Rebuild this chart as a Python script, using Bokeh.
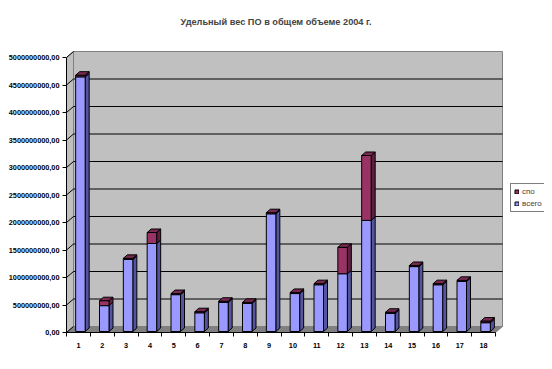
from bokeh.plotting import figure
from bokeh.models import FixedTicker, Range1d, Legend, LegendItem
from bokeh.embed import file_html
from bokeh.resources import INLINE

# ---- data ----
categories = [str(i) for i in range(1, 19)]
vsego = [4.63e9, 0.47e9, 1.31e9, 1.60e9, 0.67e9, 0.34e9, 0.53e9, 0.51e9, 2.14e9,
         0.69e9, 0.85e9, 1.05e9, 2.02e9, 0.33e9, 1.18e9, 0.85e9, 0.91e9, 0.16e9]
spo = [0.03e9, 0.09e9, 0.02e9, 0.20e9, 0.02e9, 0.02e9, 0.02e9, 0.02e9, 0.02e9,
       0.02e9, 0.02e9, 0.48e9, 1.18e9, 0.02e9, 0.02e9, 0.02e9, 0.02e9, 0.03e9]
y_ticks = [0, 0.5e9, 1.0e9, 1.5e9, 2.0e9, 2.5e9, 3.0e9, 3.5e9, 4.0e9, 4.5e9, 5.0e9]
y_tick_labels = ["0,00", "500000000,00", "1000000000,00", "1500000000,00",
                 "2000000000,00", "2500000000,00", "3000000000,00", "3500000000,00",
                 "4000000000,00", "4500000000,00", "5000000000,00"]
title_text = "Удельный вес ПО в общем объеме 2004 г."
series_names = ["спо", "всего"]

# ---- geometry (pixels -> data units) ----
N = len(categories)
YMAX = y_ticks[-1]
FRAME_W, FRAME_H = 478, 302
PX_X = N / 429.0
PX_Y = YMAX / 275.0
WALL_DX, WALL_DY = 7 * PX_X, 6 * PX_Y
BAR_DX, BAR_DY = 4 * PX_X, 3.5 * PX_Y
BAR_SHIFT_X, BAR_SHIFT_Y = 2 * PX_X, 1 * PX_Y
BAR_HALF = 4.75 * PX_X

p = figure(width=544, height=361, output_backend="svg", toolbar_location=None,
           x_range=Range1d(0, FRAME_W * PX_X), y_range=Range1d(0, FRAME_H * PX_Y),
           min_border_left=66, min_border_right=0, min_border_top=30, min_border_bottom=29)
p.outline_line_color = None
p.xgrid.visible = False
p.ygrid.visible = False
p.background_fill_color = "white"
p.border_fill_color = "white"

p.title.text = title_text
p.title.align = "left"
p.title.offset = 114
p.title.standoff = 8
p.title.text_font = "Liberation Sans"
p.title.text_font_size = "9.2px"
p.title.text_font_style = "bold"

# ---- walls ----
p.patch([0, 0, WALL_DX, WALL_DX], [0, YMAX, YMAX + WALL_DY, WALL_DY],
        fill_color="#C0C0C0", line_color="#808080", line_width=1)
p.patch([WALL_DX, WALL_DX, N + WALL_DX, N + WALL_DX],
        [WALL_DY, YMAX + WALL_DY, YMAX + WALL_DY, WALL_DY],
        fill_color="#C0C0C0", line_color="#808080", line_width=1)
p.patch([0, N, N + WALL_DX, WALL_DX], [0, 0, WALL_DY, WALL_DY],
        fill_color="#808080", line_color="#808080", line_width=1)

grid_vals = [v for v in y_ticks if 0 < v < YMAX]
p.segment(x0=[WALL_DX] * len(grid_vals), y0=[v + WALL_DY for v in grid_vals],
          x1=[N + WALL_DX] * len(grid_vals), y1=[v + WALL_DY for v in grid_vals],
          line_color="black", line_width=1)
p.segment(x0=[0] * len(y_ticks), y0=y_ticks,
          x1=[WALL_DX] * len(y_ticks), y1=[v + WALL_DY for v in y_ticks],
          line_color="black", line_width=1)

# ---- 3D stacked bars ----
def faces(bottoms, tops):
    fl, fr, fb, ft = [], [], [], []
    sx, sy, tx, ty = [], [], [], []
    for i, (b, t) in enumerate(zip(bottoms, tops)):
        c = i + 0.5 + BAR_SHIFT_X
        l, r = c - BAR_HALF, c + BAR_HALF
        b2, t2 = b + BAR_SHIFT_Y, t + BAR_SHIFT_Y
        fl.append(l); fr.append(r); fb.append(b2); ft.append(t2)
        sx.append([r, r + BAR_DX, r + BAR_DX, r])
        sy.append([b2, b2 + BAR_DY, t2 + BAR_DY, t2])
        tx.append([l, r, r + BAR_DX, l + BAR_DX])
        ty.append([t2, t2, t2 + BAR_DY, t2 + BAR_DY])
    return fl, fr, fb, ft, sx, sy, tx, ty

tops1 = vsego
tops2 = [a + b for a, b in zip(vsego, spo)]
fl, fr, fb, ft, sx, sy, tx, ty = faces([0] * N, tops1)
p.patches(sx, sy, fill_color="#55559F", line_color="black", line_width=1)
r_vsego = p.quad(left=fl, right=fr, bottom=fb, top=ft, fill_color="#9999FF",
                 line_color="black", line_width=1)
fl, fr, fb, ft, sx, sy, tx, ty = faces(tops1, tops2)
p.patches(sx, sy, fill_color="#5E1F40", line_color="black", line_width=1)
r_spo = p.quad(left=fl, right=fr, bottom=fb, top=ft, fill_color="#993366",
               line_color="black", line_width=1)
p.patches(tx, ty, fill_color="#7A2952", line_color="black", line_width=1)

# ---- axes ----
ya = p.yaxis[0]
ya.ticker = FixedTicker(ticks=y_ticks, minor_ticks=[])
ya.major_label_overrides = {t: s for t, s in zip(y_ticks, y_tick_labels)}
ya.bounds = (0, YMAX)
ya.axis_line_color = "black"
ya.major_tick_out = 4
ya.major_tick_in = 0
ya.major_tick_line_color = "black"
ya.minor_tick_line_color = None
ya.major_label_standoff = 3
ya.major_label_text_font = "Liberation Sans"
ya.major_label_text_font_size = "7.3px"
ya.major_label_text_font_style = "bold"
ya.major_label_text_color = "black"

xa = p.xaxis[0]
centers = [i + 0.5 for i in range(N)]
xa.ticker = FixedTicker(ticks=centers, minor_ticks=list(range(N + 1)))
xa.major_label_overrides = {c: s for c, s in zip(centers, categories)}
xa.bounds = (0, N)
xa.axis_line_color = "black"
xa.major_tick_line_color = None
xa.major_tick_out = 0
xa.major_tick_in = 0
xa.minor_tick_line_color = "black"
xa.minor_tick_out = 4
xa.minor_tick_in = 0
xa.major_label_standoff = 6
xa.major_label_text_font = "Liberation Sans"
xa.major_label_text_font_size = "7.3px"
xa.major_label_text_font_style = "bold"
xa.major_label_text_color = "black"

# ---- legend ----
legend = Legend(items=[LegendItem(label=series_names[0], renderers=[r_spo]),
                       LegendItem(label=series_names[1], renderers=[r_vsego])],
                location=(444, 120), orientation="vertical")
legend.border_line_color = "black"
legend.border_line_width = 1
legend.background_fill_color = "white"
legend.label_text_font = "Liberation Sans"
legend.label_text_font_size = "8px"
legend.glyph_width = 5
legend.glyph_height = 5
legend.label_height = 8
legend.label_standoff = 3
legend.spacing = 3
legend.padding = 3
legend.margin = 0
p.add_layout(legend, "center")

open("out.html", "w").write(file_html(p, INLINE))
